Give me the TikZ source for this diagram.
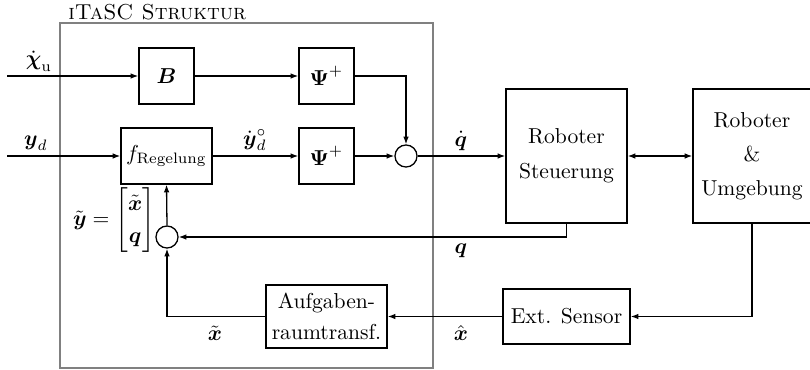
\documentclass[tikz,border=0pt]{standalone}
\usepackage{amsmath}
\usetikzlibrary{arrows.meta}
\begin{document}
\begin{tikzpicture}[x=0.463pt, y=-0.463pt,
  >={Latex[length=3.6pt,width=2.6pt]},
  blk/.style={draw, semithick, minimum width=25.5pt, minimum height=25.9pt, inner sep=2pt},
  sumpt/.style={draw, semithick, circle, minimum size=10.2pt, inner sep=0pt},
  conn/.style={semithick, ->},
  lbl/.style={inner sep=0pt}
]
\useasboundingbox (0,0) rectangle (810,370);

% iTaSC frame
\draw[gray, semithick] (60,23) rectangle (433,368);
\node[anchor=base west, inner sep=0pt] (title) at (68,19) {\textsc{iTaSC Struktur}};

% blocks
\node[blk] (B) at (166.5,76) {$\boldsymbol{B}$};
\node[blk] (psiA) at (326.5,76) {$\boldsymbol{\Psi}^{+}$};
\node[blk, minimum width=42.1pt] (f) at (166.5,156) {$f_{\mathrm{Regelung}}$};
\node[blk] (psiB) at (326.5,156) {$\boldsymbol{\Psi}^{+}$};
\node[sumpt] (sum) at (406,156) {};
\node[sumpt] (fb) at (167,237) {};
\node[blk, minimum width=56pt, minimum height=62pt, align=center] (steu) at (566.5,156)
  {Roboter\\[4pt]Steuerung};
\node[blk, minimum width=54.6pt, minimum height=62pt, align=center] (umg) at (752,156)
  {Roboter\\[3.7pt]\&\\[3.7pt]Umgebung};
\node[blk, minimum width=58.8pt, minimum height=25.5pt] (sens) at (566.5,316.5) {Ext. Sensor};
\node[blk, minimum width=56pt, minimum height=29.2pt, align=center] (auf) at (326.5,316.5)
  {Aufgaben-\\[2pt]raumtransf.};

% inputs
\coordinate (inA) at (7,76);
\coordinate (inB) at (7,156);

% connectors
\draw[conn] (inA) -- (B.west);
\draw[conn] (B.east) -- (psiA.west);
\draw[conn] (psiA.east) -| (sum.north);
\draw[conn] (inB) -- (f.west);
\draw[conn] (f.east) -- (psiB.west);
\draw[conn] (psiB.east) -- (sum.west);
\draw[conn] (sum.east) -- (steu.west);
\draw[semithick, <->] (steu.east) -- (umg.west);
\draw[conn] (steu.south) |- (fb.east);
\draw[conn] (umg.south) |- (sens.east);
\draw[conn] (sens.west) -- (auf.east);
\draw[conn] (auf.west) -| (fb.south);
\draw[conn] (fb.north) -- (f.south);

% signal labels
\node[lbl] (lchi) at (39,61) {$\dot{\boldsymbol{\chi}}_{\mathrm{u}}$};
\node[lbl] (lyd) at (36,143) {$\boldsymbol{y}_{d}$};
\node[lbl] (lyddot) at (255,140) {$\dot{\boldsymbol{y}}_{d}^{\circ}$};
\node[lbl] (lqdot) at (461,141) {$\dot{\boldsymbol{q}}$};
\node[lbl] (lq) at (461,251) {$\boldsymbol{q}$};
\node[lbl] (lxhat) at (461,333) {$\hat{\boldsymbol{x}}$};
\node[lbl] (lxtil) at (215,333) {$\tilde{\boldsymbol{x}}$};
\node[lbl] (lytil) at (114,220)
  {\renewcommand{\arraystretch}{1.25}%
   $\tilde{\boldsymbol{y}} = \begin{bmatrix}\tilde{\boldsymbol{x}}\\ \boldsymbol{q}\end{bmatrix}$};
\end{tikzpicture}
\end{document}
